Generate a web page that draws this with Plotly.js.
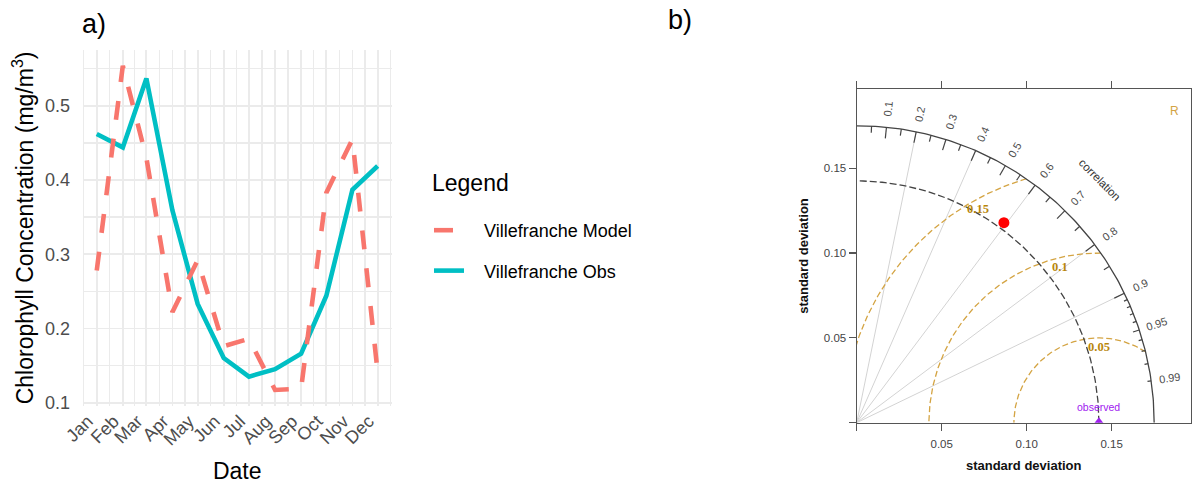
<!DOCTYPE html>
<html><head><meta charset="utf-8">
<script src="https://cdn.plot.ly/plotly-3.0.1.min.js"></script>
<style>html,body{margin:0;padding:0;background:#fff}#chart{width:1192px;height:487px}</style>
</head><body><div id="chart"></div>
<script>
// ---------------- data: panel a ----------------
const months = ["Jan","Feb","Mar","Apr","May","Jun","Jul","Aug","Sep","Oct","Nov","Dec"];
const dates = ["2021-01-01","2021-02-01","2021-03-01","2021-04-01","2021-05-01","2021-06-01",
               "2021-07-01","2021-08-01","2021-09-01","2021-10-01","2021-11-01","2021-12-01"];
const modelChl = [0.278,0.554,0.430,0.222,0.292,0.176,0.186,0.117,0.119,0.383,0.455,0.141];
const obsChl   = [0.462,0.444,0.537,0.359,0.233,0.160,0.135,0.145,0.166,0.244,0.387,0.419];
const yTicks = [0.1,0.2,0.3,0.4,0.5];
const yMinor = [0.15,0.25,0.35,0.45,0.55];
const seriesNames = ["Villefranche Model","Villefranche Obs"];

// ---------------- data: panel b (Taylor) ----------------
const obsSd = 0.1425;
const modelSd = 0.1463;
const modelCor = 0.592;
const maxSd = 0.175;
const sdTicks = [0.05,0.10,0.15];
const sdTickText = ["0.05","0.10","0.15"];
const corrMajor = [0.1,0.2,0.3,0.4,0.5,0.6,0.7,0.8,0.9];
const corrMed = [0.05,0.15,0.25,0.35,0.45,0.55,0.65,0.75,0.85,0.95];
const corrSmall = [0.91,0.92,0.93,0.94,0.96,0.97,0.98,0.99];
const corrLabelVals = [0.1,0.2,0.3,0.4,0.5,0.6,0.7,0.8,0.9,0.95,0.99];
const corrLabelText = ["0.1","0.2","0.3","0.4","0.5","0.6","0.7","0.8","0.9","0.95","0.99"];
const corrLines = [0.2,0.4,0.6,0.8,0.9];
const rmsLevels = [0.05,0.10,0.15];
const rmsLabels = ["0.05","0.1","0.15"];
const rmsLabelAngle = [90,104,119.5];

// ---------------- helpers ----------------
const W = 1192, H = 487;
const px = v => v / W, py = v => 1 - v / H;
const fmt = ms => new Date(ms).toISOString().replace('T',' ').replace('Z','');
const ms = s => Date.parse(s + "T00:00:00Z");

const dMin = ms(dates[0]), dMax = ms(dates[dates.length-1]);
const dPad = (dMax - dMin) * 0.05;
const xRange = [fmt(dMin - dPad), fmt(dMax + dPad)];
const minorDates = [];
for (let m = -1; m < 12; m++) {
  const a = Date.UTC(2021, m, 1), b = Date.UTC(2021, m + 1, 1);
  minorDates.push(fmt((a + b) / 2));
}
const allY = modelChl.concat(obsChl);
const yLo = Math.min(...allY), yHi = Math.max(...allY), yPad = (yHi - yLo) * 0.05;
const yRange = [yLo - yPad, yHi + yPad];

const FONT = "Liberation Sans, Arial, Helvetica, sans-serif";
const deg = Math.PI / 180;
const NB = "\u00a0\u00a0\u00a0";

// ---------------- traces ----------------
const traces = [];
traces.push({
  x: dates, y: obsChl, type: 'scatter', mode: 'lines', name: NB + seriesNames[1],
  line: {color: '#00BFC4', width: 4.6}, xaxis: 'x', yaxis: 'y', legendrank: 2, legendgroup: 'b'
});
traces.push({
  x: dates, y: modelChl, type: 'scatter', mode: 'lines', name: NB + seriesNames[0],
  line: {color: '#F8766D', width: 4.6, dash: '19px,19px'}, xaxis: 'x', yaxis: 'y', legendrank: 1, legendgroup: 'a'
});

function arc(r, a0, a1, n) {
  const xs = [], ys = [];
  for (let i = 0; i <= n; i++) {
    const t = a0 + (a1 - a0) * i / n;
    xs.push(r * Math.cos(t)); ys.push(r * Math.sin(t));
  }
  return {xs, ys};
}
const tb = {type: 'scatter', mode: 'lines', xaxis: 'x2', yaxis: 'y2', showlegend: false, hoverinfo: 'skip'};

{
  const xs = [], ys = [];
  corrLines.forEach(c => { const a = Math.acos(c); xs.push(0, maxSd*Math.cos(a), null); ys.push(0, maxSd*Math.sin(a), null); });
  traces.push(Object.assign({}, tb, {x: xs, y: ys, line: {color: '#D3D3D3', width: 1}}));
}
rmsLevels.forEach(r => {
  let c0 = (maxSd*maxSd - obsSd*obsSd - r*r) / (2*obsSd*r);
  c0 = Math.max(-1, Math.min(1, c0));
  const t0 = Math.acos(c0);
  const xs = [], ys = [];
  const n = 120;
  for (let i = 0; i <= n; i++) {
    const t = t0 + (Math.PI - t0) * i / n;
    xs.push(obsSd + r*Math.cos(t)); ys.push(r*Math.sin(t));
  }
  traces.push(Object.assign({}, tb, {x: xs, y: ys, line: {color: '#D4A443', width: 1.3, dash: '6px,3px'}}));
});
{
  const a = arc(obsSd, 0, Math.PI/2, 120);
  traces.push(Object.assign({}, tb, {x: a.xs, y: a.ys, line: {color: '#444', width: 1.3, dash: '7px,3px'}}));
}
{
  const a = arc(maxSd, 0, Math.PI/2, 150);
  traces.push(Object.assign({}, tb, {x: a.xs, y: a.ys, line: {color: '#444', width: 1.3}}));
}
{
  const xs = [], ys = [];
  const add = (vals, len) => vals.forEach(c => {
    const a = Math.acos(c);
    xs.push(maxSd*Math.cos(a), (maxSd-len)*Math.cos(a), null);
    ys.push(maxSd*Math.sin(a), (maxSd-len)*Math.sin(a), null);
  });
  add(corrMajor, 0.0066); add(corrMed, 0.0039); add(corrSmall, 0.0022);
  traces.push(Object.assign({}, tb, {x: xs, y: ys, line: {color: '#444', width: 1.2}}));
}
traces.push({type: 'scatter', mode: 'markers', xaxis: 'x2', yaxis: 'y2', showlegend: false,
  x: [obsSd], y: [0], marker: {symbol: 'triangle-up', size: 11, color: '#A020F0'}, cliponaxis: true});
traces.push({type: 'scatter', mode: 'markers', xaxis: 'x2', yaxis: 'y2', showlegend: false,
  x: [modelSd*modelCor], y: [modelSd*Math.sqrt(1-modelCor*modelCor)],
  marker: {symbol: 'circle', size: 11, color: '#FF0000'}});

// ---------------- annotations ----------------
const ann = [];
ann.push({text: 'a)', xref: 'paper', yref: 'paper', x: px(80), y: py(24), xanchor: 'left', yanchor: 'middle',
  showarrow: false, font: {size: 27, color: '#000', family: FONT}});
ann.push({text: 'b)', xref: 'paper', yref: 'paper', x: px(666), y: py(20), xanchor: 'left', yanchor: 'middle',
  showarrow: false, font: {size: 27, color: '#000', family: FONT}});
ann.push({text: 'Legend', xref: 'paper', yref: 'paper', x: px(430), y: py(183), xanchor: 'left', yanchor: 'middle',
  showarrow: false, font: {size: 23, color: '#000', family: FONT}});
corrLabelVals.forEach((c, i) => {
  const a = Math.acos(c), r = 0.1857;
  ann.push({text: corrLabelText[i], xref: 'x2', yref: 'y2', x: r*Math.cos(a), y: r*Math.sin(a),
    showarrow: false, textangle: -a/deg, xanchor: 'center', yanchor: 'middle',
    font: {size: 11, color: '#4D4D4D', family: FONT}});
});
ann.push({text: 'correlation', xref: 'x2', yref: 'y2', x: 0.2025*Math.cos(45*deg), y: 0.2025*Math.sin(45*deg),
  showarrow: false, textangle: 45, xanchor: 'center', yanchor: 'middle', font: {size: 11.5, color: '#333', family: FONT}});
rmsLevels.forEach((r, i) => {
  const t = rmsLabelAngle[i]*deg, rr = r - 0.0055;
  ann.push({text: '<b>' + rmsLabels[i] + '</b>', xref: 'x2', yref: 'y2', x: obsSd + rr*Math.cos(t), y: rr*Math.sin(t),
    showarrow: false, xanchor: 'center', yanchor: 'middle',
    font: {size: 12.5, color: '#B8860B', family: 'Liberation Serif, Times New Roman, serif'}});
});
ann.push({text: 'observed', xref: 'x2', yref: 'y2', x: obsSd, y: 0, yshift: 8, xanchor: 'center', yanchor: 'bottom', showarrow: false,
  font: {size: 10.5, color: '#A020F0', family: FONT}});
ann.push({text: 'R', xref: 'paper', yref: 'paper', x: px(1174), y: py(111), xanchor: 'center', yanchor: 'middle', showarrow: false,
  font: {size: 12, color: '#D4A443', family: FONT}});

// ---------------- layout ----------------
const taylorAxis = {
  range: [0, 0.1965], tickmode: 'array', tickvals: sdTicks, ticktext: sdTickText,
  showgrid: false, zeroline: false, showline: true, linecolor: '#555', linewidth: 1.2,
  mirror: 'ticks', ticks: 'outside', ticklen: 7, tickwidth: 1.2, tickcolor: '#555',
  minor: {tickmode: 'array', tickvals: [0], ticks: 'outside', ticklen: 7, tickwidth: 1.2, tickcolor: '#555', showgrid: false},
  tickfont: {size: 11.5, color: '#444', family: FONT}
};
const layout = {
  width: W, height: H, margin: {l: 0, r: 0, t: 0, b: 0},
  paper_bgcolor: '#fff', plot_bgcolor: 'rgba(0,0,0,0)',
  font: {family: FONT},
  showlegend: true,
  legend: {x: px(429), y: py(212), xanchor: 'left', yanchor: 'top', bgcolor: 'rgba(0,0,0,0)',
    font: {size: 18, color: '#000', family: FONT}, traceorder: 'grouped', tracegroupgap: 14, itemwidth: 30},
  xaxis: {domain: [px(82.7), px(391.7)], anchor: 'y', type: 'date', range: xRange,
    tickmode: 'array', tickvals: dates, ticktext: months, tickangle: -45,
    tickfont: {size: 18, color: '#4D4D4D', family: FONT}, ticks: '', ticklabelstandoff: 0,
    ticklabelshift: -9,
    showgrid: true, gridcolor: '#EBEBEB', gridwidth: 1.8, zeroline: false, showline: false,
    minor: {tickmode: 'array', tickvals: minorDates, showgrid: true, gridcolor: '#EBEBEB', gridwidth: 1.3},
    title: {text: 'Date', font: {size: 23, color: '#000', family: FONT}, standoff: 14}},
  yaxis: {domain: [py(406.2), py(49.6)], anchor: 'x', range: yRange,
    tickmode: 'array', tickvals: yTicks, ticktext: yTicks.map(v => v.toFixed(1)),
    tickfont: {size: 18, color: '#4D4D4D', family: FONT}, ticks: 'outside', ticklen: 8, tickcolor: 'rgba(0,0,0,0)',
    showgrid: true, gridcolor: '#EBEBEB', gridwidth: 1.8, zeroline: false, showline: false,
    minor: {tickmode: 'array', tickvals: yMinor, showgrid: true, gridcolor: '#EBEBEB', gridwidth: 1.3},
    title: {text: 'Chlorophyll Concentration (mg/m<sup>3</sup>)', font: {size: 23, color: '#000', family: FONT}, standoff: 5}},
  xaxis2: Object.assign({}, taylorAxis, {domain: [px(856.7), px(1190.7)], anchor: 'y2', ticklabelstandoff: 3,
    title: {text: '<b>standard deviation</b>', font: {size: 13, color: '#111', family: FONT}, standoff: 12}}),
  yaxis2: Object.assign({}, taylorAxis, {domain: [py(422.7), py(89.3)], anchor: 'x2',
    title: {text: '<b>standard deviation</b>', font: {size: 13, color: '#111', family: FONT}, standoff: 12}}),
  annotations: ann
};

Plotly.newPlot('chart', traces, layout, {displayModeBar: false, responsive: false, staticPlot: true});
</script>
</body></html>
